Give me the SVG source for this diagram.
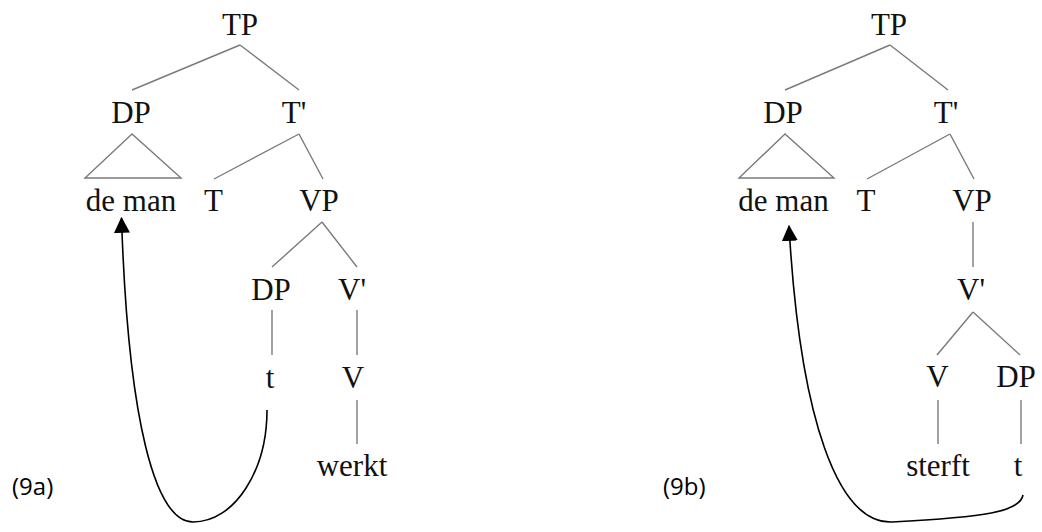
<svg xmlns="http://www.w3.org/2000/svg" width="1042" height="532" viewBox="0 0 1042 532">
<style>
.t{font-family:"Liberation Serif","Times New Roman",serif;font-size:31px;fill:#111;text-anchor:middle}
.lbl{font-family:"Open Sans","Liberation Sans",sans-serif;font-size:24px;fill:#000}
.e{stroke:#7a7a7a;stroke-width:1.4;fill:none}
.mv{stroke:#000;stroke-width:1.6;fill:none;marker-end:url(#ah)}
</style>
<defs>
<marker id="ah" markerUnits="userSpaceOnUse" markerWidth="16" markerHeight="16" viewBox="0 0 14 14" refX="13" refY="7" orient="auto">
<path d="M0,0 L14,7 L0,14 z" fill="#000"/>
</marker>
</defs>
<rect width="1042" height="532" fill="#fff"/>
<g id="tree-a-edges">
<line class="e" x1="240" y1="45" x2="132" y2="90"/>
<line class="e" x1="240" y1="45" x2="299" y2="90"/>
<polygon class="e" points="132,134 85,178 181,178"/>
<line class="e" x1="299" y1="134" x2="214" y2="179"/>
<line class="e" x1="299" y1="134" x2="323" y2="179"/>
<line class="e" x1="322" y1="222" x2="272" y2="267"/>
<line class="e" x1="322" y1="222" x2="357" y2="267"/>
<line class="e" x1="272" y1="310" x2="272" y2="355"/>
<line class="e" x1="357" y1="310" x2="357" y2="355"/>
<line class="e" x1="357" y1="400" x2="357" y2="444"/>
</g>
<g id="tree-b-edges">
<line class="e" x1="890" y1="45" x2="785" y2="90"/>
<line class="e" x1="890" y1="45" x2="948" y2="90"/>
<polygon class="e" points="785,134 739,178 834,178"/>
<line class="e" x1="950" y1="134" x2="867" y2="179"/>
<line class="e" x1="950" y1="134" x2="974" y2="179"/>
<line class="e" x1="973" y1="222" x2="973" y2="267"/>
<line class="e" x1="973" y1="312" x2="937" y2="355"/>
<line class="e" x1="973" y1="312" x2="1020" y2="355"/>
<line class="e" x1="938" y1="400" x2="938" y2="444"/>
<line class="e" x1="1021" y1="400" x2="1021" y2="444"/>
</g>
<g id="a-TP"><text class="t" x="240" y="35">TP</text></g>
<g id="a-DP"><text class="t" x="131" y="123">DP</text></g>
<g id="a-Tbar"><text class="t" x="294" y="123">T'</text></g>
<g id="a-deman"><text class="t" x="131" y="211">de man</text></g>
<g id="a-T"><text class="t" x="213.5" y="211">T</text></g>
<g id="a-VP"><text class="t" x="319" y="211">VP</text></g>
<g id="a-DP2"><text class="t" x="271" y="300">DP</text></g>
<g id="a-Vbar"><text class="t" x="352" y="300">V'</text></g>
<g id="a-t"><text class="t" x="270" y="388">t</text></g>
<g id="a-V"><text class="t" x="353" y="388">V</text></g>
<g id="a-werkt"><text class="t" x="352" y="476">werkt</text></g>
<g id="b-TP"><text class="t" x="889" y="35">TP</text></g>
<g id="b-DP"><text class="t" x="783" y="123">DP</text></g>
<g id="b-Tbar"><text class="t" x="946" y="123">T'</text></g>
<g id="b-deman"><text class="t" x="783.5" y="211">de man</text></g>
<g id="b-T"><text class="t" x="866" y="211">T</text></g>
<g id="b-VP"><text class="t" x="972" y="211">VP</text></g>
<g id="b-Vbar"><text class="t" x="971" y="300">V'</text></g>
<g id="b-V"><text class="t" x="937.5" y="387">V</text></g>
<g id="b-DP2"><text class="t" x="1016" y="387">DP</text></g>
<g id="b-sterft"><text class="t" x="938" y="476">sterft</text></g>
<g id="b-t"><text class="t" x="1018" y="476">t</text></g>
<g id="labels">
<text class="lbl" x="12" y="495">(9a)</text>
<text class="lbl" x="663" y="495">(9b)</text>
</g>
<g id="connectors">
<path class="mv" d="M267,410 C267,470 235,522 193,522 C155,522 128,420 121.5,218"/>
<path class="mv" d="M1023,495 C1020,512 985,517 892,522 C838,524 800,420 789,226"/>
</g>
</svg>
